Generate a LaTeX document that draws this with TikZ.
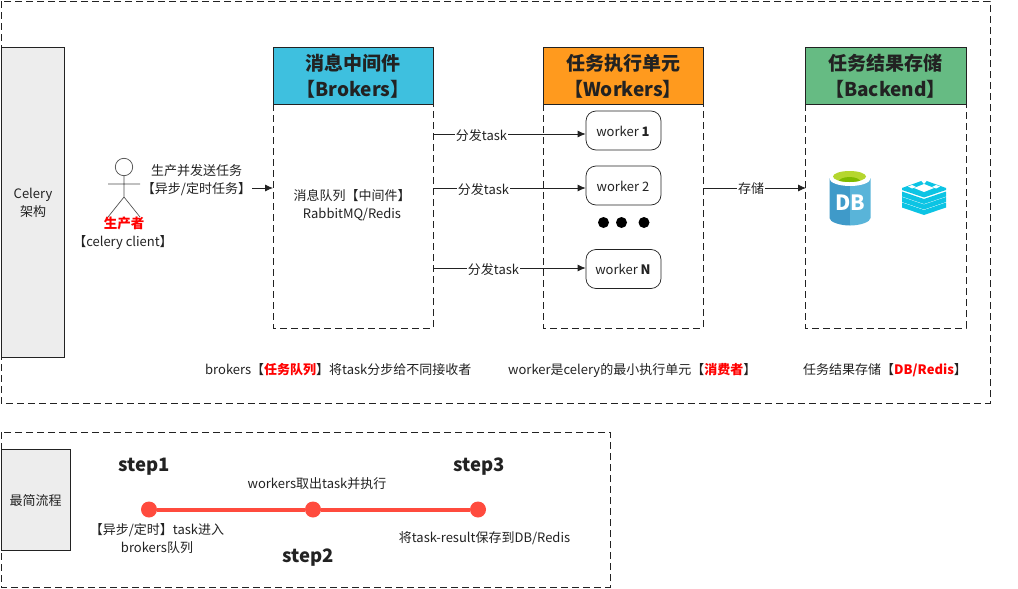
\documentclass[tikz,border=0pt]{standalone}
\usepackage{fontspec}
\setmainfont{Noto Sans CJK SC}
\usetikzlibrary{arrows.meta}
\definecolor{hdrb}{HTML}{3EC0DF}
\definecolor{hdrw}{HTML}{FF9A1E}
\definecolor{hdrg}{HTML}{66BB83}
\definecolor{lbl}{HTML}{EDEDED}
\definecolor{stepred}{HTML}{FF4B3E}
\definecolor{inkc}{HTML}{222222}
\definecolor{redisc}{HTML}{0CC4E4}
\definecolor{dbdark}{HTML}{3F9AC9}
\definecolor{dblight}{HTML}{59B4D9}
\definecolor{dbtop}{HTML}{B5D62E}
\definecolor{dbin}{HTML}{7FBA00}
\tikzset{
 x=1pt,y=-1pt,
 txt/.style={font=\fontsize{13}{18}\selectfont,text=inkc,align=center,inner sep=0pt},
 outerbox/.style={draw=inkc,dash pattern=on 7pt off 4pt,line width=.8pt},
 body/.style={draw=inkc,dash pattern=on 7pt off 4pt,line width=.8pt},
 hdr/.style={draw=inkc,line width=.8pt,minimum width=160pt,minimum height=57pt,inner sep=0pt,align=center,font=\fontsize{19}{26}\selectfont\bfseries,text=inkc},
 side/.style={draw=inkc,fill=lbl,line width=.7pt,inner sep=0pt,align=center,font=\fontsize{13}{18}\selectfont,text=inkc},
 wk/.style={draw=inkc,rounded corners=10pt,minimum width=75pt,minimum height=39pt,inner sep=0pt,font=\fontsize{13}{16}\selectfont,text=inkc,line width=.7pt},
 arr/.style={-{Latex[length=8pt,width=7pt]},draw=inkc,line width=.8pt},
 lab/.style={txt,fill=white,inner xsep=1pt,inner ysep=0pt},
 stepdot/.style={circle,fill=stepred,inner sep=0pt,minimum size=16pt},
 steplab/.style={font=\fontsize{18.5}{22}\selectfont\bfseries,text=inkc,inner sep=0pt},
}
\begin{document}
\begin{tikzpicture}
\useasboundingbox (0,0) rectangle (1018,589);
\fill[white] (0,0) rectangle (1018,589);
\draw[outerbox] (1,1) rectangle (990,403);
\draw[outerbox] (1,432) rectangle (610,587);
\node[side,minimum width=63pt,minimum height=310pt] (arch) at (32.5,202) {};
\node[txt] (archt) at (33,203) {Celery\\架构};
\node[side,minimum width=69pt,minimum height=101pt] (flow) at (35.5,500) {};
\node[txt] (flowt) at (35.5,501) {最简流程};

\draw[body] (273,104) rectangle (433,328);
\draw[body] (543,104) rectangle (703,328);
\draw[body] (805,104) rectangle (966,328);
\node[hdr,fill=hdrb] (brokers) at (353,75.5) {};
\node[hdr,fill=hdrw] (workers) at (623,75.5) {};
\node[hdr,fill=hdrg,minimum width=161pt] (backend) at (885.5,75.5) {};
\node[hdr,draw=none,minimum width=0pt,minimum height=0pt] (brokerst) at (353,76.5) {消息中间件\\【Brokers】};
\node[hdr,draw=none,minimum width=0pt,minimum height=0pt] (workerst) at (623,76.5) {任务执行单元\\【Workers】};
\node[hdr,draw=none,minimum width=0pt,minimum height=0pt] (backendt) at (885.5,76.5) {任务结果存储\\【Backend】};

% actor
\draw[draw=inkc!80,line width=.7pt] (124,167) circle (8.7pt);
\draw[draw=inkc!80,line width=.7pt] (124,176) -- (124,197) (108,184) -- (140,184) (124,197) -- (108,217) (124,197) -- (140,217);
\node[txt,font=\fontsize{13.5}{16}\selectfont\bfseries,text=red] (prod) at (124,223.5) {生产者};
\node[txt] (client) at (123,243) {【celery client】};
\node[txt] (send) at (196.5,180) {生产并发送任务\\【异步/定时任务】};

\coordinate (sendend) at (252,188);
\coordinate (brokerE1) at (433,134);
\coordinate (brokerE2) at (433,188);
\coordinate (brokerE3) at (433,268);
\coordinate (brokerW) at (273,188);
\coordinate (workerE) at (703,188);
\coordinate (backendW) at (806,188);
\draw[arr] (sendend) -- (brokerW);

\node[txt] (queue) at (352,205) {消息队列【中间件】\\RabbitMQ/Redis};

\node[wk] (w1) at (623.5,130.5) {};
\node[wk] (w2) at (623.5,185.5) {};
\node[wk] (wn) at (623.5,269) {};
\node[txt] (w1t) at (623,131.5) {worker \textbf{1}};
\node[txt] (w2t) at (623,186.5) {worker 2};
\node[txt] (wnt) at (623,269.5) {worker \textbf{N}};
\fill[black] (603.5,222.5) circle (5.5pt) (621.5,222.5) circle (5.5pt) (644,222.5) circle (5.5pt);

\draw[arr] (brokerE1) -- (brokerE1 -| w1.west);
\draw[arr] (brokerE2) -- (brokerE2 -| w2.west);
\draw[arr] (brokerE3) -- (brokerE3 -| wn.west);
\node[lab] (d1) at (481.5,135.5) {分发task};
\node[lab] (d2) at (483.5,189.5) {分发task};
\node[lab] (d3) at (493.5,269.5) {分发task};
\draw[arr] (workerE) -- (backendW);
\node[lab] (st) at (751,189) {存储};

% DB icon
\fill[dbdark] (829.5,178) -- (829.5,218) .. controls (829.5,222) and (840,225.5) .. (850,225.5) -- (850,178) -- cycle;
\fill[dblight] (870.5,178) -- (870.5,218) .. controls (870.5,222) and (860,225.5) .. (850,225.5) -- (850,178) -- cycle;
\fill[white] (850,178.5) ellipse (20.5pt and 7.5pt);
\fill[dbtop] (849.5,176.5) ellipse (16.5pt and 5.5pt);
\begin{scope}
\clip (849.5,176.5) ellipse (16.5pt and 5.5pt);
\fill[dbin] (849.5,182) ellipse (11pt and 5pt);
\end{scope}
\node[inner sep=0pt,text=white,font=\fontsize{21}{21}\selectfont\bfseries] (dbt) at (850,203) {DB};

% Redis icon
\foreach \yy in {191.5,197,202.5}{
 \fill[redisc] (902,\yy) -- (924,\yy+7.5) -- (946,\yy) -- (946,\yy+5) -- (924,\yy+12.5) -- (902,\yy+5) -- cycle;
}
\fill[redisc] (902,188) -- (924,180) -- (946,188) -- (946,190) -- (924,197.5) -- (902,190) -- cycle;
\fill[white] (914,188) -- (924,184) -- (934,188) -- (924,192) -- cycle;
\fill[white] (921,180.5) -- (924,179.5) -- (927,180.5) -- (924,184) -- cycle;
\fill[white] (908,186.5) -- (912,185) -- (916,187) -- (912,188.5) -- cycle;
\fill[white] (940,186.5) -- (936,185) -- (932,187) -- (936,188.5) -- cycle;

\node[txt,anchor=west] (c1) at (205,370) {brokers【\textbf{\textcolor{red}{任务队列}}】将task分步给不同接收者};
\node[txt,anchor=west] (c2) at (508,370) {worker是celery的最小执行单元【\textbf{\textcolor{red}{消费者}}】};
\node[txt,anchor=west] (c3) at (803,370) {任务结果存储【\textbf{\textcolor{red}{DB/Redis}}】};

% flow
\node[stepdot] (s1) at (149,509.5) {};
\node[stepdot] (s2) at (313,509.5) {};
\node[stepdot] (s3) at (478,509.5) {};
\draw[stepred,line width=4pt] (s1) -- (s2);
\draw[stepred,line width=4pt] (s2) -- (s3);
\node[steplab] (l1) at (144,467) {step1};
\node[steplab] (l2) at (308.5,558) {step2};
\node[steplab] (l3) at (479.5,467) {step3};
\node[txt] (t2) at (317,484) {workers取出task并执行};
\node[txt] (t1) at (157,538.5) {【异步/定时】task进入\\brokers队列};
\node[txt] (t3) at (484.5,538) {将task-result保存到DB/Redis};
\end{tikzpicture}
\end{document}
